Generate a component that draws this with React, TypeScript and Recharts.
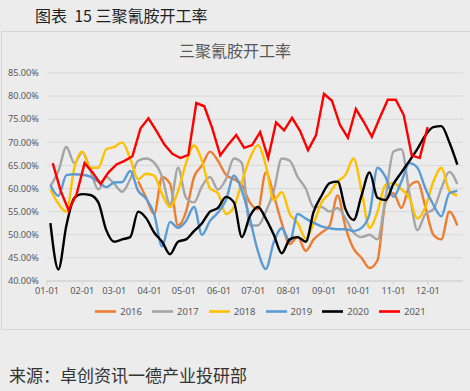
import { LineChart, Line, XAxis, YAxis, CartesianGrid, Legend } from "recharts";

// x axis: day of year, labelled at the first of each month
const MONTH_DAYS = [0, 31, 59, 90, 120, 151, 181, 212, 243, 273, 304, 334];
const MONTH_LABELS = ["01-01", "02-01", "03-01", "04-01", "05-01", "06-01", "07-01", "08-01", "09-01", "10-01", "11-01", "12-01"];
const Y_TICKS = [40, 45, 50, 55, 60, 65, 70, 75, 80, 85];

// weekly operating rate (%)
const RATE_2016 = [61.6, 58, 54.5, 62.5, 61, 52, 55, 62.5, 65, 68, 66, 63, 62, 60.8, 57, 55.5, 63.5, 58.5, 52.5, 48, 49.5, 46.5, 49, 50.5, 52, 58.5, 51.5, 47, 45, 42.8, 44.5, 57, 59, 55.8, 60.5, 61.5, 56, 50, 49, 55, 52];
const RATE_2017 = [60.5, 63.8, 69, 65.5, 67.9, 64, 59.8, 62.5, 61, 59.3, 62, 66, 66.5, 65.6, 62.5, 56.5, 64.5, 58, 57, 60.5, 62.5, 59.8, 62, 66.5, 65.5, 52, 52, 55, 59.5, 66.5, 66, 62.5, 60, 56, 56, 55, 55.8, 53.5, 50.5, 49.5, 50, 49, 58, 68, 68.5, 59, 51, 54.5, 55.5, 60, 63.6, 61];
const RATE_2018 = [59.8, 56.7, 55, 64.5, 68, 64.5, 64.5, 68.5, 69, 70, 66.5, 62, 63.2, 62.8, 58.8, 56, 59.5, 65.5, 69.3, 66, 60, 59, 54.5, 56, 61.5, 66.5, 69.4, 65, 57.5, 59.2, 54.5, 52.5, 49.2, 52.5, 57, 59, 61.5, 63, 66.5, 59.5, 51.5, 55, 60.8, 61.2, 59.8, 58, 53.5, 56, 61.5, 64.5, 59.5, 58.5];
const RATE_2019 = [60.7, 58.4, 62.9, 63.1, 63, 62.6, 61.5, 60.3, 61.3, 61.4, 63.8, 59.5, 57.8, 54.5, 47.5, 52.8, 51.5, 53, 56, 50, 53, 54.8, 57.5, 62.8, 59.5, 53.5, 46.5, 42.6, 48.4, 51.4, 48.6, 54.5, 53.5, 52.6, 51.8, 51.4, 51.2, 51.2, 50.8, 51.5, 54.5, 64.5, 62.5, 58.2, 61.5, 65.5, 64.5, 60, 56.5, 54, 59, 59.5];
const RATE_2020 = [52.5, 42.5, 52, 58, 58.8, 58.6, 57, 51, 48.5, 49, 49.5, 55, 53.6, 50.5, 48.5, 45.8, 48.5, 49, 50.8, 52.5, 55, 55.8, 58.2, 57, 49.5, 54, 56, 53.5, 50, 46, 49, 49.5, 48.5, 55, 58.5, 61.2, 61.5, 55.5, 53.2, 58.5, 63.5, 58, 57.5, 61, 63.5, 66, 68.6, 71.5, 73.3, 73.5, 70, 65.2];
const RATE_2021 = [65.5, 59.5, 55.3, 58.8, 65.5, 63.5, 61, 63.5, 65.2, 66, 67, 73, 75.2, 72.5, 69.5, 67.5, 66.6, 67.3, 78.5, 77.8, 73, 67.2, 69.5, 71.6, 68.8, 69.4, 72.2, 66.6, 74.3, 72.6, 75.3, 72.5, 68.3, 71.5, 80.5, 79, 73.8, 71, 77.2, 74.4, 71.2, 75.3, 79.2, 79.2, 75.9, 67.2, 66.6, 73.3];

type Series = { name: string; values: number[]; firstWeek: number; firstDay: number; color: string; smooth: boolean };

const SERIES: Series[] = [
  { name: "2016", values: RATE_2016, firstWeek: 11, firstDay: 3, color: "#ED7D31", smooth: true },
  { name: "2017", values: RATE_2017, firstWeek: 0, firstDay: 3, color: "#A5A5A5", smooth: true },
  { name: "2018", values: RATE_2018, firstWeek: 0, firstDay: 3, color: "#FFC000", smooth: true },
  { name: "2019", values: RATE_2019, firstWeek: 0, firstDay: 3, color: "#5B9BD5", smooth: true },
  { name: "2020", values: RATE_2020, firstWeek: 0, firstDay: 3, color: "#000000", smooth: true },
  { name: "2021", values: RATE_2021, firstWeek: 0, firstDay: 5, color: "#FF0000", smooth: false },
];

function toPoints(s: Series) {
  return s.values.map((v, i) => ({ day: s.firstDay + 7 * (s.firstWeek + i), value: v }));
}

const BG = "#ececec";
const TEXT = "#595959";
const CJK = '"Noto Sans CJK SC", "Noto Sans", sans-serif';

export default function App() {
  return (
    <div style={{ position: "absolute", left: 0, top: 0, width: 470, height: 391, background: BG, overflow: "hidden" }}>
      <div style={{ position: "absolute", left: 35, top: 4, fontFamily: CJK, fontSize: 16, color: "#1f1f1f", whiteSpace: "pre", lineHeight: "22px" }}>
        {"图表  15 三聚氰胺开工率"}
      </div>
      <div style={{ position: "absolute", left: 1, top: 31, width: 480, height: 297, border: "1px solid #d6d6d6" }} />
      <div style={{ position: "absolute", left: 0, width: 470, top: 38, textAlign: "center", fontFamily: CJK, fontSize: 16, color: TEXT, lineHeight: "24px" }}>
        三聚氰胺开工率
      </div>
      <div style={{ position: "absolute", left: 0, top: 0 }}>
        <LineChart width={470} height={330} margin={{ top: 73, right: 7, bottom: 8, left: 0 }}>
          <CartesianGrid horizontal vertical={false} stroke="#d9d9d9" />
          <XAxis
            dataKey="day"
            type="number"
            domain={[0, 365]}
            ticks={MONTH_DAYS}
            tickFormatter={(d: number) => MONTH_LABELS[MONTH_DAYS.indexOf(d)]}
            allowDuplicatedCategory={false}
            height={20}
            stroke="#d0d0d0"
            tickSize={4}
            tick={{ fontSize: 9.2, fill: TEXT, fontFamily: "Noto Sans" }}
            interval={0}
          />
          <YAxis
            type="number"
            domain={[40, 85]}
            ticks={Y_TICKS}
            tickFormatter={(v: number) => `${v.toFixed(2)}%`}
            width={47}
            axisLine={false}
            tickLine={false}
            tick={{ fontSize: 9.2, fill: TEXT, fontFamily: "Noto Sans" }}
          />
          <Legend
            verticalAlign="bottom"
            iconType="plainline"
            iconSize={21}
            wrapperStyle={{ paddingLeft: 34, boxSizing: "content-box" }}
            formatter={(v: string) => <span style={{ color: TEXT, fontSize: 9.5, fontFamily: "Noto Sans" }}>{v}</span>}
          />
          {SERIES.map((s) => (
            <Line
              key={s.name}
              name={s.name}
              data={toPoints(s)}
              dataKey="value"
              type={s.smooth ? "monotone" : "linear"}
              stroke={s.color}
              strokeWidth={2.4}
              dot={false}
              activeDot={false}
              isAnimationActive={false}
            />
          ))}
        </LineChart>
      </div>
      <div style={{ position: "absolute", left: 9, top: 363, fontFamily: CJK, fontSize: 17, color: "#333", lineHeight: "24px" }}>
        来源：卓创资讯一德产业投研部
      </div>
    </div>
  );
}
